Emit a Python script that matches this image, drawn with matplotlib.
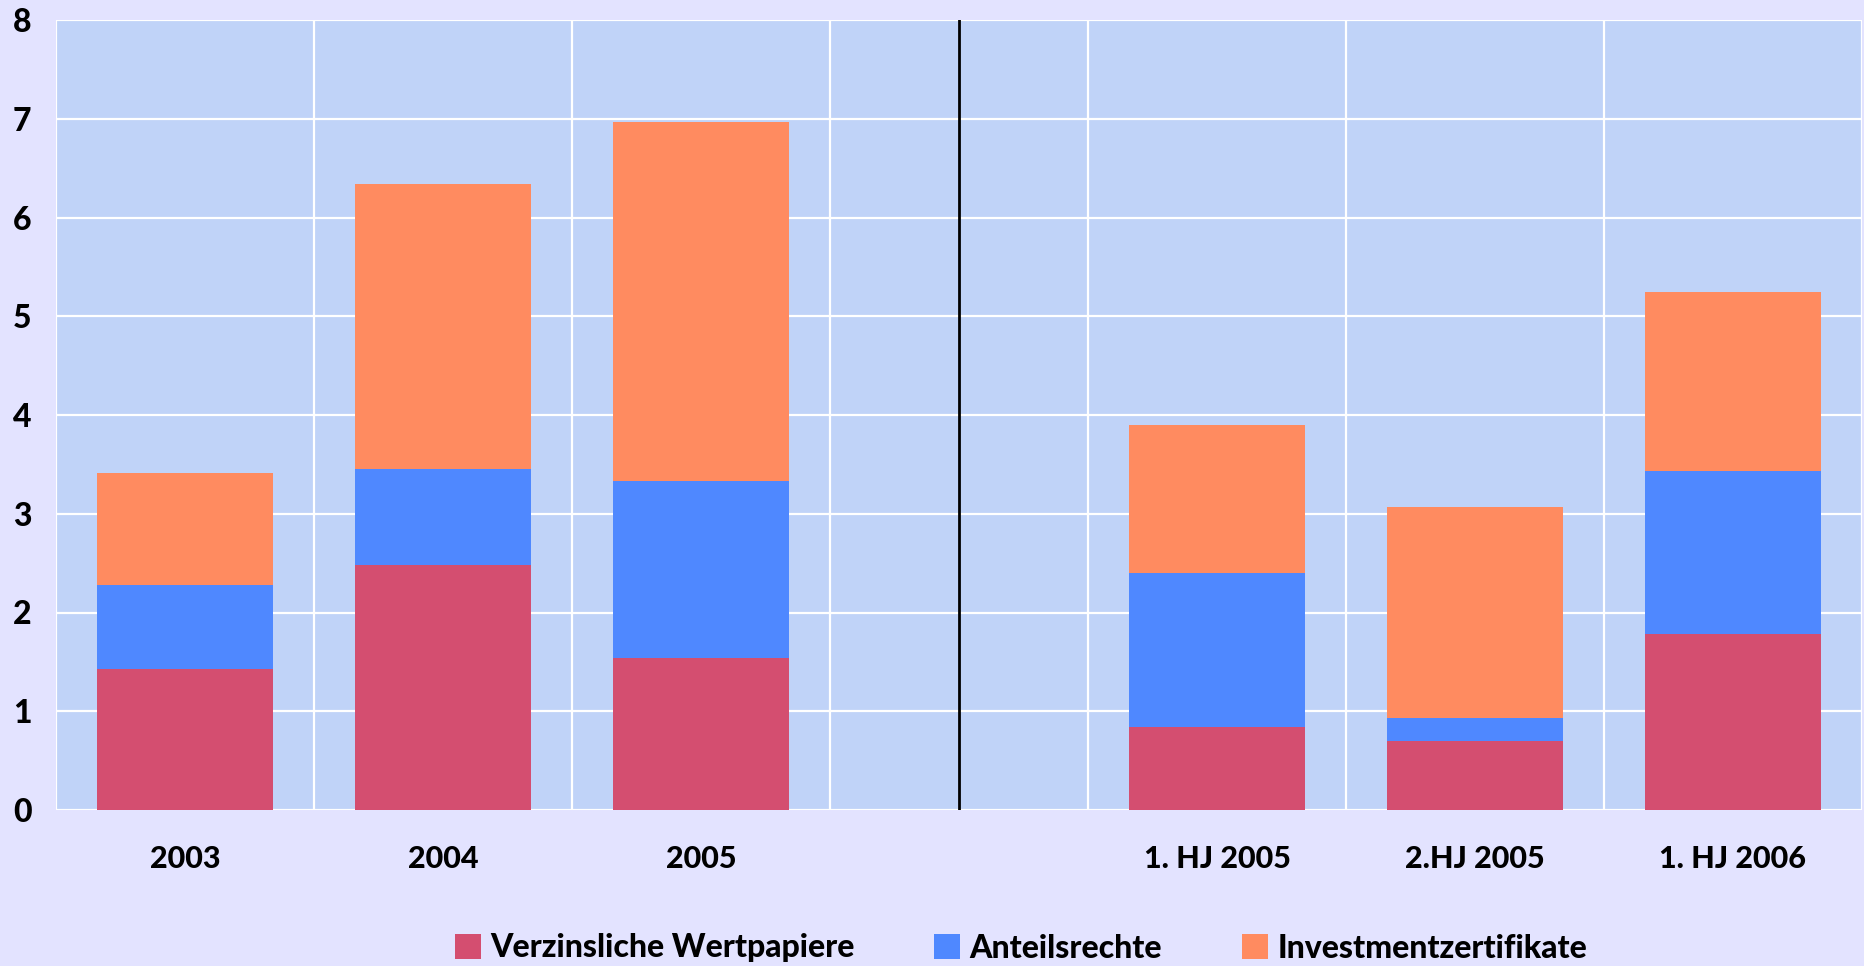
import numpy as np
import matplotlib.pyplot as plt

# data
categories = ['2003', '2004', '2005', '', '1. HJ 2005', '2.HJ 2005', '1. HJ 2006']
verzinsliche = [1.43, 2.48, 1.54, 0.0, 0.84, 0.70, 1.78]
anteilsrechte = [0.85, 0.97, 1.79, 0.0, 1.56, 0.23, 1.65]
investment = [1.13, 2.89, 3.64, 0.0, 1.50, 2.14, 1.82]
series_names = ['Verzinsliche Wertpapiere', 'Anteilsrechte', 'Investmentzertifikate']
y_ticks = [0, 1, 2, 3, 4, 5, 6, 7, 8]

colors = ['#D44E70', '#4F88FF', '#FF8B60']
bg = '#E3E3FF'
plot_bg = '#C0D3F8'

plt.rcParams['font.family'] = ['Lato', 'DejaVu Sans']
plt.rcParams['font.weight'] = 'black'

fig = plt.figure(figsize=(18.65, 9.66), dpi=100, facecolor=bg)
ax = fig.add_axes([56 / 1865, 1 - 810 / 966, (1862 - 56) / 1865, (810 - 20) / 966])
ax.set_facecolor(plot_bg)

x = np.arange(len(categories))
width = 0.68
bottom = np.zeros(len(categories))
handles = []
for vals, col, name in zip([verzinsliche, anteilsrechte, investment], colors, series_names):
    vals = np.array(vals)
    b = ax.bar(x, vals, width, bottom=bottom, color=col, label=name, zorder=3)
    handles.append(b)
    bottom += vals

# separator between years and half-years
ax.axvline(3, color='black', linewidth=2, zorder=4)

ax.set_xlim(-0.5, len(categories) - 0.5)
ax.set_ylim(0, 8)
ax.set_yticks(y_ticks)
ax.set_xticks(x)
ax.set_xticklabels(categories)
ax.set_xticks(np.arange(-0.5, len(categories)), minor=True)
ax.grid(True, which='minor', axis='x', color='white', linewidth=1.6, zorder=1)
ax.grid(True, which='major', axis='y', color='white', linewidth=1.6, zorder=1)
ax.tick_params(which='both', length=0)
ax.tick_params(axis='x', which='major', labelsize=22, pad=25)
ax.tick_params(axis='y', labelsize=23, pad=31)
for lbl in ax.get_yticklabels():
    lbl.set_horizontalalignment('left')
for s in ax.spines.values():
    s.set_visible(False)

fig.legend(handles=handles, labels=series_names, loc='center', ncol=3,
           bbox_to_anchor=(1021 / 1865, 1 - 948 / 966), frameon=False,
           fontsize=23, handlelength=0.8, handleheight=0.8, handletextpad=0.3,
           columnspacing=2.5)

fig.savefig('out.png', dpi=100, facecolor=bg)
